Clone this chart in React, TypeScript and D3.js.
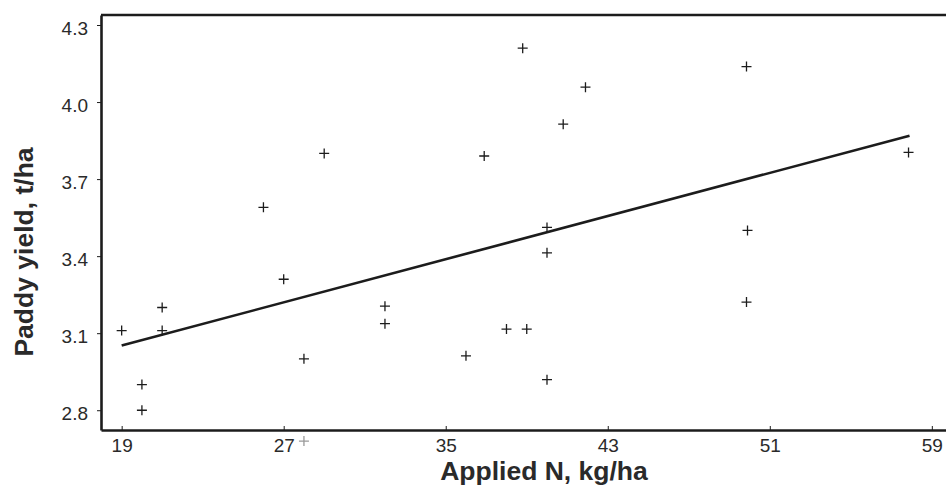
import React, { useEffect, useRef } from "react";
import * as d3 from "d3";

const nApplied = [19, 20, 20, 21, 21, 26, 27, 28, 28, 29, 32, 32, 36, 36.9, 38, 38.8, 39, 40, 40, 40, 40.8, 41.9, 49.85, 49.85, 49.9, 57.85];
const paddyYield = [3.11, 2.9, 2.8, 3.2, 3.11, 3.59, 3.31, 3.0, 2.68, 3.8, 3.205, 3.137, 3.012, 3.79, 3.116, 4.21, 3.116, 3.512, 3.413, 2.919, 3.914, 4.058, 4.138, 3.221, 3.5, 3.804];
const fitX = [19, 57.9];
const fitY = [3.052, 3.869];
const xTicks = [19, 27, 35, 43, 51, 59];
const yTicks = [2.8, 3.1, 3.4, 3.7, 4.0, 4.3];

const W = 946;
const H = 485;
const margin = { top: 15, right: 0, bottom: 55, left: 101 };

const App = () => {
  const svgRef = useRef<SVGSVGElement>(null);

  useEffect(() => {
    const svg = d3.select(svgRef.current).attr("width", W).attr("height", H);
    svg.selectAll("*").remove();

    const x = d3.scaleLinear().domain([17.98, 59.7]).range([margin.left, W - margin.right]);
    const y = d3.scaleLinear().domain([2.723, 4.339]).range([H - margin.bottom, margin.top]);

    const font = "Arial, 'Liberation Sans', sans-serif";
    const ink = "#1c1c1c";

    // axes (bottom ticks point inward, left ticks outward like the original)
    const xAxis = svg
      .append("g")
      .attr("transform", `translate(0,${H - margin.bottom})`)
      .call(d3.axisBottom(x).tickValues(xTicks).tickSize(-4).tickPadding(9).tickSizeOuter(0));
    xAxis.select(".domain").attr("stroke", ink).attr("stroke-width", 2.6);
    xAxis.selectAll(".tick line").attr("stroke", ink);
    xAxis
      .selectAll("text")
      .attr("font-family", font)
      .attr("font-size", 19)
      .attr("fill", "#2a2a2a");

    const yAxis = svg
      .append("g")
      .attr("transform", `translate(${margin.left},0)`)
      .call(
        d3
          .axisLeft(y)
          .tickValues(yTicks)
          .tickFormat(d3.format(".1f"))
          .tickSize(4)
          .tickPadding(9)
          .tickSizeOuter(0)
      );
    yAxis.select(".domain").attr("stroke", ink).attr("stroke-width", 2.6);
    yAxis.selectAll(".tick line").attr("stroke", ink);
    yAxis
      .selectAll("text")
      .attr("font-family", font)
      .attr("font-size", 19)
      .attr("fill", "#2a2a2a")
      .attr("dy", "0.5em");

    // top frame
    svg
      .append("line")
      .attr("x1", margin.left)
      .attr("x2", W)
      .attr("y1", margin.top)
      .attr("y2", margin.top)
      .attr("stroke", ink)
      .attr("stroke-width", 2.6);

    // regression line
    const line = d3
      .line<number>()
      .x((d, i) => x(fitX[i]))
      .y((d) => y(d));
    svg
      .append("path")
      .attr("d", line(fitY))
      .attr("fill", "none")
      .attr("stroke", ink)
      .attr("stroke-width", 2.6);

    // data points as plus marks
    svg
      .append("g")
      .selectAll("path")
      .data(nApplied.map((d, i) => [d, paddyYield[i]]))
      .join("path")
      .attr("d", (d) => {
        const cx = x(d[0]);
        const cy = y(d[1]);
        return `M${cx - 5},${cy}H${cx + 5}M${cx},${cy - 5}V${cy + 5}`;
      })
      .attr("stroke", (d) => (d[1] < 2.723 ? "#999" : ink))
      .attr("stroke-width", 1.3)
      .attr("fill", "none");

    // axis titles
    svg
      .append("text")
      .attr("x", 544)
      .attr("y", 480)
      .attr("text-anchor", "middle")
      .attr("font-family", font)
      .attr("font-weight", "bold")
      .attr("font-size", 26.5)
      .attr("fill", "#2a2a2a")
      .text("Applied N, kg/ha");

    svg
      .append("text")
      .attr("transform", `translate(33,252) rotate(-90)`)
      .attr("text-anchor", "middle")
      .attr("font-family", font)
      .attr("font-weight", "bold")
      .attr("font-size", 26.5)
      .attr("fill", "#2a2a2a")
      .text("Paddy yield, t/ha");
  }, []);

  return (
    <div style={{ position: "absolute", left: 0, top: 0, background: "#fff" }}>
      <svg ref={svgRef} style={{ display: "block" }}></svg>
    </div>
  );
};

export default App;
